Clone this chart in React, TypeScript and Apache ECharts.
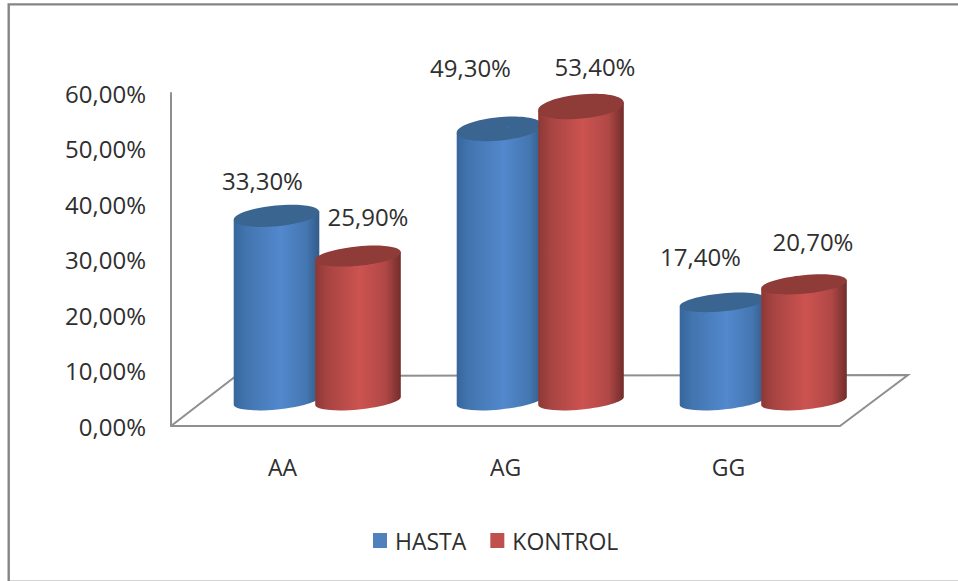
import React, { useEffect, useRef } from "react";
import * as echarts from "echarts";

const categories = ["AA", "AG", "GG"];
const hastaValues = [33.3, 49.3, 17.4];
const kontrolValues = [25.9, 53.4, 20.7];
const yMax = 60;
const yStep = 10;

const FONT = "Open Sans";
const TEXT = "#2f2f2f";
const AXIS = "#8f8f8f";

// Hand-placed data labels: offset from the centre of each cylinder's top.
const hastaLabelNudge = [[-14, -35], [-29, -61], [-22, -46]];
const kontrolLabelNudge = [[10, -40], [14, -40.5], [9, -43]];

const percent = (v: number) => v.toFixed(2).replace(".", ",") + "%";

// Cylinder geometry: a tilted ellipse for the cap and the base.
const CYL_RX = 43;
const BASE_RY = 8.5;
const TILT = (5.5 * Math.PI) / 180;
const BASE_DROP = 4;
const KAPPA = 0.5523;

// Taller cylinders show more of their cap, as the view is from above.
const capRy = (v: number) => 7.5 + 0.085 * v;

// Point on the tilted ellipse, with u along the long axis and v along the short axis.
function ellipsePoint(cx: number, cy: number, ry: number, u: number, v: number) {
  const x = cx + u * CYL_RX * Math.cos(TILT) + v * ry * Math.sin(TILT);
  const y = cy - u * CYL_RX * Math.sin(TILT) + v * ry * Math.cos(TILT);
  return `${x.toFixed(2)} ${y.toFixed(2)}`;
}

// Half an ellipse from the left end to the right end; dir 1 runs below, -1 above.
function halfEllipse(cx: number, cy: number, ry: number, dir: number) {
  const p = (u: number, v: number) => ellipsePoint(cx, cy, ry, u, v * dir);
  return (
    `C ${p(-1, KAPPA)} ${p(-KAPPA, 1)} ${p(0, 1)} ` +
    `C ${p(KAPPA, 1)} ${p(1, KAPPA)} ${p(1, 0)} `
  );
}

function cylinderItem(
  sideStops: { offset: number; color: string }[],
  topColor: string,
  nudges: number[][],
  side: -1 | 1,
) {
  return (params: any, api: any) => {
    const idx = api.value(0);
    const value = api.value(1);
    const [catX, topY] = api.coord([idx, value]);
    const [, zeroY] = api.coord([idx, 0]);
    const cx = catX + side * 40.75;
    const baseY = zeroY + BASE_DROP;
    const ry = capRy(value);
    const left = (cy: number) => ellipsePoint(cx, cy, 0, -1, 0);
    const right = (cy: number) => ellipsePoint(cx, cy, 0, 1, 0);
    const body =
      `M ${left(topY)} L ${left(baseY)} ` +
      halfEllipse(cx, baseY, BASE_RY, 1) +
      `L ${right(topY)} Z`;
    const cap =
      `M ${left(topY)} ` +
      halfEllipse(cx, topY, ry, 1) +
      `L ${left(topY)} ` +
      halfEllipse(cx, topY, ry, -1) +
      "Z";
    const [nx, ny] = nudges[params.dataIndex];
    return {
      type: "group",
      children: [
        {
          type: "path",
          shape: { pathData: body },
          style: { fill: new echarts.graphic.LinearGradient(0, 0, 1, 0, sideStops) },
        },
        { type: "path", shape: { pathData: cap }, style: { fill: topColor } },
        {
          type: "text",
          style: {
            text: percent(value),
            x: cx + nx,
            y: topY + ny,
            align: "center",
            verticalAlign: "middle",
            fontFamily: FONT,
            fontSize: 24,
            fill: TEXT,
          },
        },
      ],
    };
  };
}

const blueStops = [
  { offset: 0, color: "#37669c" },
  { offset: 0.14, color: "#4274ae" },
  { offset: 0.55, color: "#5288cd" },
  { offset: 0.85, color: "#4476b0" },
  { offset: 1, color: "#325b89" },
];
const redStops = [
  { offset: 0, color: "#8c3836" },
  { offset: 0.14, color: "#a64442" },
  { offset: 0.52, color: "#cc5350" },
  { offset: 0.82, color: "#b04846" },
  { offset: 1, color: "#722d2b" },
];

export default function App() {
  const ref = useRef<HTMLDivElement>(null);

  useEffect(() => {
    const chart = echarts.init(ref.current!, null, { renderer: "svg" });
    chart.setOption({
      animation: false,
      backgroundColor: "#ffffff",
      grid: [
        { left: 171, top: 93, width: 669, height: 333 },
        // Rear plane of the 3D floor, where the cylinders stand.
        { left: 205.75, top: 70.6, width: 669, height: 326.4 },
      ],
      xAxis: [
        {
          type: "category",
          gridIndex: 0,
          data: categories,
          axisLine: { show: true, lineStyle: { color: AXIS, width: 2 } },
          axisTick: { show: false },
          axisLabel: { fontFamily: FONT, fontSize: 23, color: TEXT, margin: 29 },
        },
        { type: "category", gridIndex: 1, data: categories, show: false },
      ],
      yAxis: [
        {
          type: "value",
          gridIndex: 0,
          min: 0,
          max: yMax,
          interval: yStep,
          axisLine: { show: true, lineStyle: { color: AXIS, width: 2 } },
          axisTick: { show: false },
          splitLine: { show: false },
          axisLabel: {
            fontFamily: FONT,
            fontSize: 24,
            color: TEXT,
            margin: 25,
            formatter: (v: number) => percent(v),
          },
        },
        { type: "value", gridIndex: 1, min: 0, max: yMax, interval: yStep, show: false },
      ],
      legend: {
        left: 368,
        top: 524,
        itemWidth: 14,
        itemHeight: 15,
        itemGap: 24,
        icon: "rect",
        textStyle: { fontFamily: FONT, fontSize: 23, color: TEXT, padding: [0, 0, 0, 3] },
        data: ["HASTA", "KONTROL"],
      },
      graphic: [
        {
          type: "polyline",
          shape: { points: [[8.7, 581], [8.7, 4.4], [958, 4.4]] },
          style: { fill: "none", stroke: "#858585", lineWidth: 2.4 },
          silent: true,
        },
        {
          type: "line",
          shape: { x1: 10, y1: 580.5, x2: 958, y2: 580.5 },
          style: { stroke: "#d4d4d4", lineWidth: 1 },
          silent: true,
        },
        {
          type: "polyline",
          shape: { points: [[171, 426], [236, 376], [908, 375], [840, 426]] },
          style: { fill: "none", stroke: AXIS, lineWidth: 2 },
          silent: true,
        },
      ],
      series: [
        {
          name: "HASTA",
          type: "custom",
          xAxisIndex: 1,
          yAxisIndex: 1,
          itemStyle: { color: "#4f81bd" },
          data: hastaValues.map((v, i) => [i, v]),
          encode: { x: 0, y: 1 },
          renderItem: cylinderItem(blueStops, "#3b6591", hastaLabelNudge, -1),
        },
        {
          name: "KONTROL",
          type: "custom",
          xAxisIndex: 1,
          yAxisIndex: 1,
          itemStyle: { color: "#c0504d" },
          data: kontrolValues.map((v, i) => [i, v]),
          encode: { x: 0, y: 1 },
          renderItem: cylinderItem(redStops, "#8f3b38", kontrolLabelNudge, 1),
        },
      ],
    });
    return () => chart.dispose();
  }, []);

  return (
    <div
      ref={ref}
      style={{ position: "fixed", left: 0, top: 0, width: 958, height: 581 }}
    />
  );
}
